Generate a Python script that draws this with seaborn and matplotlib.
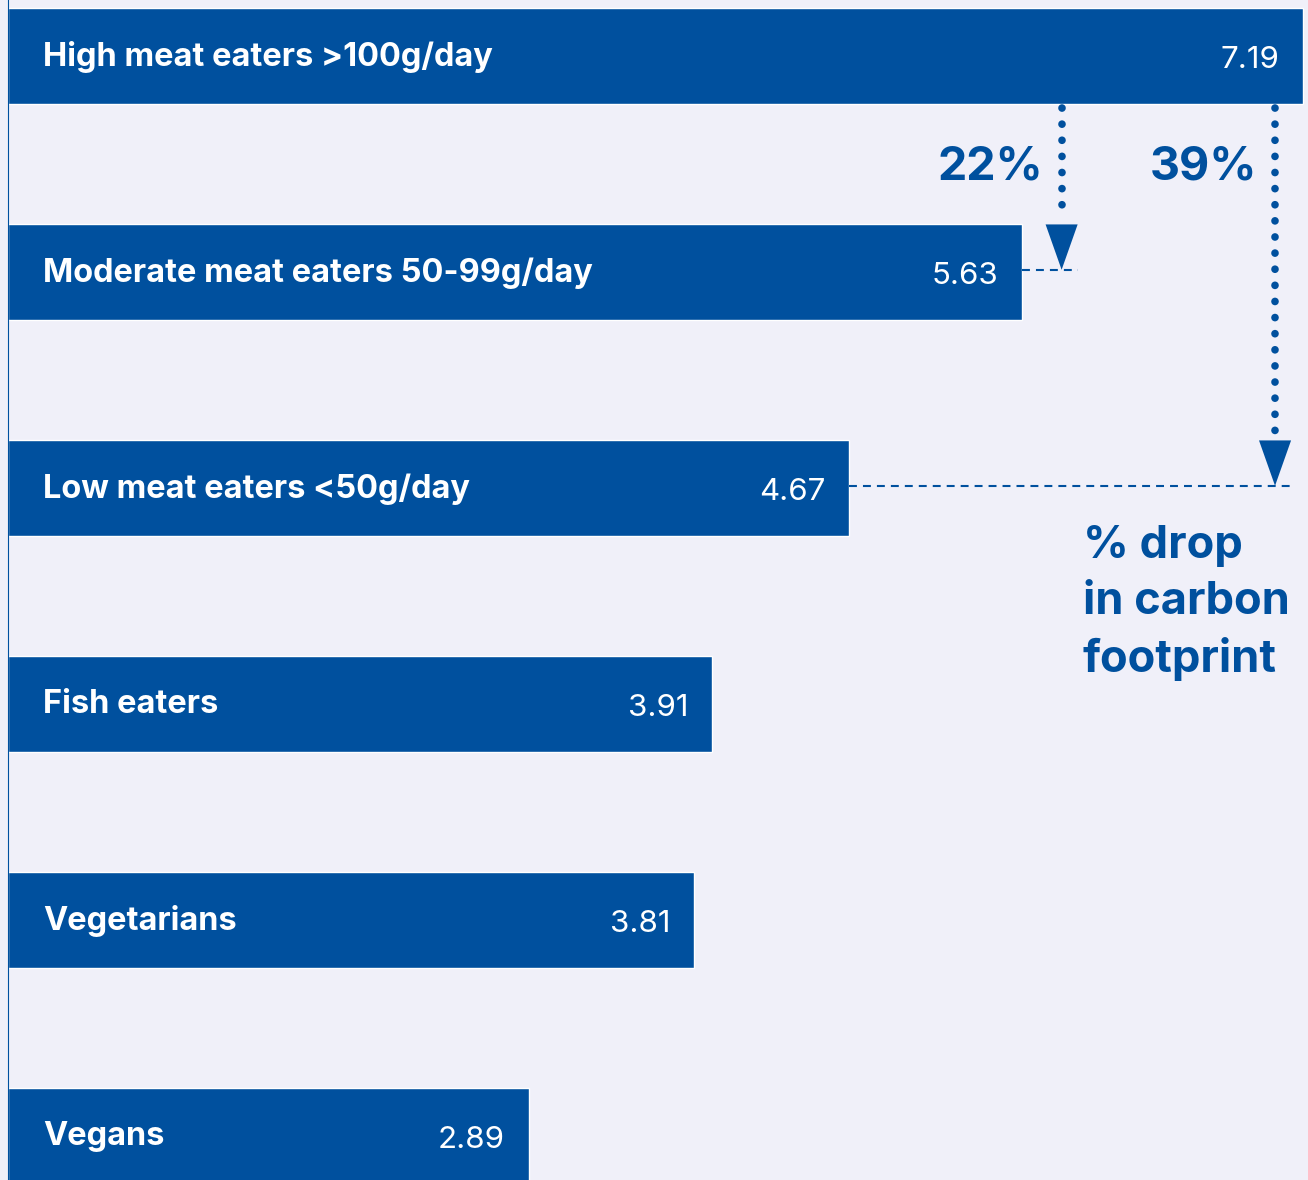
import pandas as pd
import matplotlib.pyplot as plt
import seaborn as sns

# values
categories = ['High meat eaters >100g/day', 'Moderate meat eaters 50-99g/day',
              'Low meat eaters <50g/day', 'Fish eaters', 'Vegetarians', 'Vegans']
values = [7.19, 5.63, 4.67, 3.91, 3.81, 2.89]
value_labels = ['7.19', '5.63', '4.67', '3.91', '3.81', '2.89']
drop_labels = ['22%', '39%']
drop_targets = [1, 2]   # bar index each arrow points to

BLUE = '#00509e'
BG = '#f0f0f9'

sns.set_style('white')
plt.rcParams['font.family'] = ['Inter', 'DejaVu Sans']

data = pd.DataFrame({'group': categories, 'co2': values})

fig = plt.figure(figsize=(13.08, 11.80), dpi=100, facecolor=BG)
ax = fig.add_axes([8 / 1308, 0, 1300 / 1308, 1])
ax.set_facecolor(BG)

sns.barplot(data=data, x='co2', y='group', orient='h', color=BLUE,
            saturation=1, width=0.444, ax=ax)

ax.set_xlim(0, 7.218)
ax.set_ylim(5.204, -0.259)
ax.set_xlabel('')
ax.set_ylabel('')
ax.set_xticks([])
ax.set_yticks([])
for side in ['top', 'right', 'bottom']:
    ax.spines[side].set_visible(False)
ax.spines['left'].set_color(BLUE)
ax.spines['left'].set_linewidth(0.8)

# labels inside the bars
for i, (cat, v, lab) in enumerate(zip(categories, values, value_labels)):
    ax.annotate(cat, xy=(0, i), xytext=(35, -1), textcoords='offset pixels',
                ha='left', va='center', color='white', fontsize=23.4,
                fontweight='bold')
    ax.annotate(lab, xy=(v, i), xytext=(-24, -4), textcoords='offset pixels',
                ha='right', va='center', color='white', fontsize=22.5)

# drop arrows
arrow_x = [5.85, 7.035]
head_h = 0.21
head_w = 0.089
for lab, tgt, ax_x in zip(drop_labels, drop_targets, arrow_x):
    top = 0 + 0.222
    tip = tgt - 0.01
    v = values[tgt]
    # dashed guide from the bar end
    ax.plot([v, max(ax_x + 0.09, v)], [tip, tip], color=BLUE, lw=1.5,
            linestyle=(0, (3.8, 2.9)))
    # dotted shaft
    ax.plot([ax_x, ax_x], [top + 0.02, tip - head_h - 0.03], color=BLUE,
            lw=5.5, linestyle=(0, (0.01, 2.1)), dash_capstyle='round')
    ax.fill([ax_x - head_w, ax_x + head_w, ax_x],
            [tip - head_h, tip - head_h, tip], color=BLUE, lw=0)
    ax.annotate(lab, xy=(ax_x, 0.5), xytext=(-18, -4), textcoords='offset pixels',
                ha='right', va='center', color=BLUE, fontsize=33.5,
                fontweight='bold')

ax.annotate('% drop\nin carbon\nfootprint', xy=(arrow_x[0], 2.17),
            xytext=(21, 0), textcoords='offset pixels', ha='left', va='top',
            color=BLUE, fontsize=32.5, fontweight='bold', linespacing=1.42)

fig.savefig('out.png', dpi=100, facecolor=BG)
